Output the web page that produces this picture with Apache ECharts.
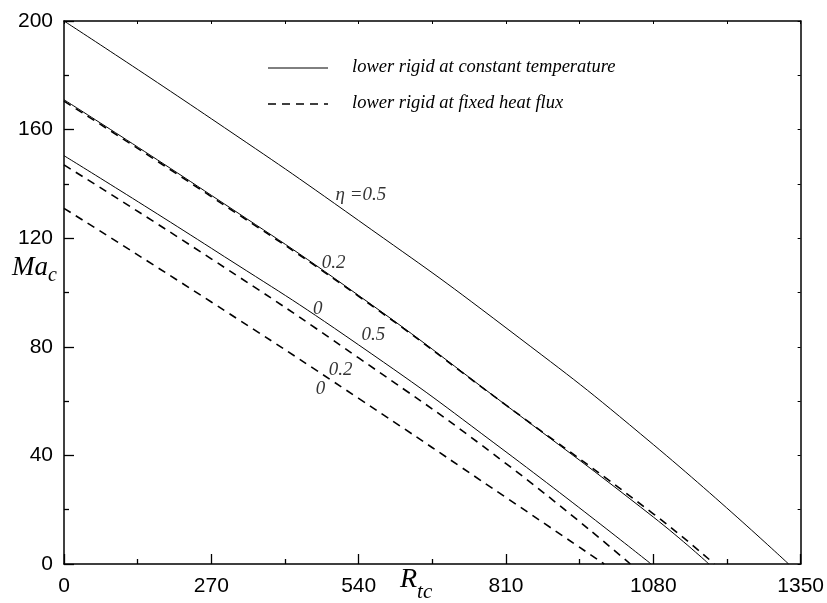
<!DOCTYPE html>
<html>
<head>
<meta charset="utf-8">
<script src="https://cdn.jsdelivr.net/npm/echarts@6/dist/echarts.min.js"></script>
<style>
  html, body { margin: 0; padding: 0; background: #fff; }
  #chart { width: 827px; height: 603px; }
</style>
</head>
<body>
<div id="chart"></div>
<script>
// lower rigid at constant temperature (solid), eta = 0.5, 0.2, 0
let solidR05 = [0, 270, 540, 810, 1080, 1328];
let solidMa05 = [200, 164, 126.5, 87, 44, 0];
let solidR02 = [0, 270, 540, 810, 1080, 1182];
let solidMa02 = [171, 135.8, 98.9, 58.5, 17.3, 0];
let solidR0 = [0, 270, 540, 810, 1076];
let solidMa0 = [150.4, 116.3, 80.7, 41.3, 0];

// lower rigid at fixed heat flux (dashed), eta = 0.5, 0.2, 0
let dashR05 = [0, 270, 540, 810, 1080, 1192];
let dashMa05 = [170.5, 135.3, 98.6, 58.5, 18.5, 0];
let dashR02 = [0, 270, 540, 810, 1038];
let dashMa02 = [147, 112.4, 75.9, 37, 0];
let dashR0 = [0, 270, 540, 810, 990];
let dashMa0 = [131, 96.5, 61, 24.5, 0];

// curve labels, as placed on the plot (R, Ma, text)
let curveLabels = [
  [544, 136, 'η =0.5'],
  [494, 111, '0.2'],
  [465, 94, '0'],
  [567, 84.5, '0.5'],
  [507, 71.5, '0.2'],
  [470, 64.5, '0']
];

let serif = '"Liberation Serif", "DejaVu Serif", serif';
let sans = '"Liberation Sans", Arial, sans-serif';

let chart = echarts.init(document.getElementById('chart'), null, { renderer: 'canvas' });

function pairs(rs, ms) {
  let out = [];
  for (let i = 0; i < rs.length; i++) out.push([rs[i], ms[i]]);
  return out;
}

function lineSeries(name, rs, ms, dashed) {
  return {
    type: 'line',
    name: name,
    data: pairs(rs, ms),
    smooth: 0.5,
    showSymbol: false,
    symbol: 'none',
    silent: true,
    lineStyle: {
      color: '#000',
      width: dashed ? 1.6 : 1,
      type: dashed ? [8, 6] : 'solid'
    },
    z: 3
  };
}

let series = [
  lineSeries('solid 0.5', solidR05, solidMa05, false),
  lineSeries('solid 0.2', solidR02, solidMa02, false),
  lineSeries('solid 0', solidR0, solidMa0, false),
  lineSeries('dashed 0.5', dashR05, dashMa05, true),
  lineSeries('dashed 0.2', dashR02, dashMa02, true),
  lineSeries('dashed 0', dashR0, dashMa0, true),
  {
    type: 'scatter',
    name: 'labels',
    data: curveLabels,
    symbolSize: 0,
    silent: true,
    label: {
      show: true,
      position: 'inside',
      formatter: function(p) { return p.data[2]; },
      fontFamily: serif,
      fontStyle: 'italic',
      fontSize: 19,
      color: '#000'
    }
  }
];

function plain(v) { return String(v); }

let axisCommon = {
  axisLine: { show: true, onZero: false, lineStyle: { color: '#000', width: 1.5 } },
  axisTick: { show: true, inside: true, length: 10, lineStyle: { color: '#000', width: 1.3 } },
  minorTick: { show: true, splitNumber: 2, length: 5, lineStyle: { color: '#000', width: 1.3 } },
  splitLine: { show: false }
};
let axisMirror = {
  axisLine: { show: true, onZero: false, lineStyle: { color: '#000', width: 1.5 } },
  axisTick: { show: true, inside: true, length: 3, lineStyle: { color: '#000', width: 1 } },
  minorTick: { show: true, splitNumber: 2, length: 3, lineStyle: { color: '#000', width: 1 } },
  splitLine: { show: false },
  axisLabel: { show: false }
};

let option = {
  animation: false,
  backgroundColor: '#fff',
  grid: { left: 64, right: 25, top: 21, bottom: 39 },
  xAxis: [
    Object.assign({
      type: 'value', min: 0, max: 1350, interval: 270, position: 'bottom',
      axisLabel: { color: '#000', fontFamily: sans, fontSize: 21, margin: 12, formatter: plain }
    }, axisCommon),
    Object.assign({
      type: 'value', min: 0, max: 1350, interval: 270, position: 'top'
    }, axisMirror)
  ],
  yAxis: [
    Object.assign({
      type: 'value', min: 0, max: 200, interval: 40, position: 'left',
      axisLabel: { color: '#000', fontFamily: sans, fontSize: 21, margin: 11, formatter: plain }
    }, axisCommon),
    Object.assign({
      type: 'value', min: 0, max: 200, interval: 40, position: 'right'
    }, axisMirror)
  ],
  series: series,
  graphic: [
    // axis titles
    {
      type: 'text', left: 12, top: 254,
      style: {
        text: '{a|Ma}{s|c}',
        rich: {
          a: { fontFamily: serif, fontStyle: 'italic', fontSize: 27, fill: '#000' },
          s: { fontFamily: serif, fontStyle: 'italic', fontSize: 20, fill: '#000', padding: [16, 0, 0, 0] }
        }
      }
    },
    {
      type: 'text', left: 400, top: 566,
      style: {
        text: '{a|R}{s|tc}',
        rich: {
          a: { fontFamily: serif, fontStyle: 'italic', fontSize: 28, fill: '#000' },
          s: { fontFamily: serif, fontStyle: 'italic', fontSize: 21, fill: '#000', padding: [24, 0, 0, 0] }
        }
      }
    },
    // legend
    {
      type: 'line', shape: { x1: 268, y1: 68, x2: 328, y2: 68 },
      style: { stroke: '#000', lineWidth: 1 }
    },
    {
      type: 'text', left: 352, top: 58,
      style: { text: 'lower rigid at constant temperature', font: 'italic 18.5px ' + serif, fill: '#000' }
    },
    {
      type: 'line', shape: { x1: 268, y1: 104, x2: 328, y2: 104 },
      style: { stroke: '#000', lineWidth: 1.6, lineDash: [8, 6] }
    },
    {
      type: 'text', left: 352, top: 94,
      style: { text: 'lower rigid at fixed heat flux', font: 'italic 18.5px ' + serif, fill: '#000' }
    }
  ]
};

chart.setOption(option);
</script>
</body>
</html>
